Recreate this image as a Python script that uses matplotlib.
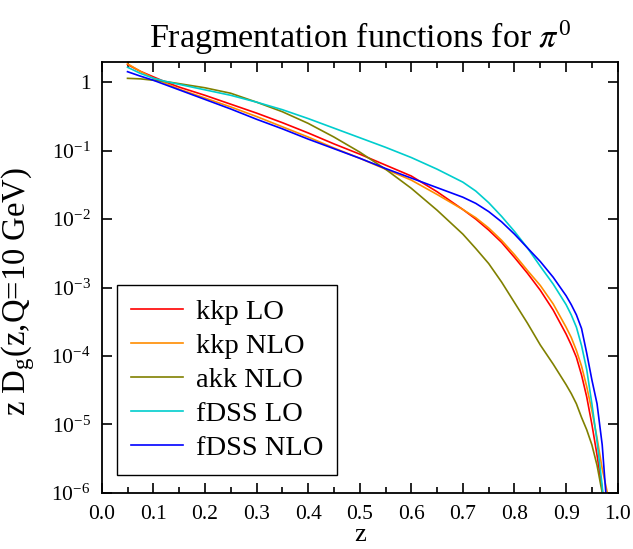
# plot.py
# Gluon fragmentation functions into pi0, several parametrisations
import numpy as np
import matplotlib
matplotlib.use("Agg")
import matplotlib.pyplot as plt
from matplotlib.ticker import FixedLocator, FuncFormatter, MultipleLocator

plt.rcParams['font.family'] = ['Liberation Serif', 'DejaVu Serif']
plt.rcParams['mathtext.fontset'] = 'stix'

# z grid (shared by all curves)
z = [0.05, 0.075, 0.10, 0.125, 0.15, 0.20, 0.25, 0.30, 0.35, 0.40, 0.45, 0.50, 0.55,
     0.60, 0.65, 0.70, 0.725, 0.75, 0.775, 0.80, 0.825, 0.85, 0.875, 0.90,
     0.91, 0.92, 0.93, 0.94, 0.95, 0.96, 0.97, 0.98, 0.99]

# log10 of z*D_g
kkp_lo = [0.26, 0.16, 0.08, 0.00, -0.07, -0.19, -0.32, -0.45, -0.59, -0.74, -0.90, -1.05, -1.21,
          -1.37, -1.60, -1.86, -2.00, -2.16, -2.34, -2.56, -2.79, -3.04, -3.33, -3.68,
          -3.84, -4.02, -4.28, -4.60, -5.00, -5.45, -5.95, -6.60, -8.0]
kkp_nlo = [0.27, 0.16, 0.06, -0.02, -0.10, -0.23, -0.36, -0.50, -0.65, -0.80, -0.96, -1.11, -1.27,
           -1.43, -1.64, -1.86, -1.98, -2.13, -2.31, -2.52, -2.75, -2.97, -3.24, -3.58,
           -3.73, -3.92, -4.15, -4.45, -4.80, -5.20, -5.65, -6.00, -8.0]
akk_nlo = [0.058, 0.05, 0.03, 0.01, -0.02, -0.08, -0.16, -0.29, -0.43, -0.60, -0.80, -1.02, -1.27,
           -1.55, -1.87, -2.22, -2.43, -2.65, -2.92, -3.22, -3.52, -3.84, -4.12, -4.42,
           -4.55, -4.70, -4.90, -5.08, -5.30, -5.60, -6.00, -6.60, -8.0]
fdss_lo = [0.22, 0.13, 0.06, 0.01, -0.03, -0.11, -0.19, -0.29, -0.40, -0.53, -0.67, -0.81, -0.95,
           -1.10, -1.27, -1.46, -1.59, -1.76, -1.96, -2.18, -2.42, -2.69, -2.95, -3.25,
           -3.40, -3.58, -3.85, -4.20, -4.70, -5.25, -5.90, -6.80, -8.0]
fdss_nlo = [0.155, 0.09, 0.03, -0.04, -0.11, -0.25, -0.39, -0.54, -0.68, -0.83, -0.97, -1.11, -1.26,
            -1.40, -1.54, -1.68, -1.77, -1.89, -2.04, -2.22, -2.42, -2.62, -2.85, -3.12,
            -3.25, -3.40, -3.60, -3.96, -4.35, -4.70, -5.30, -6.30, -8.0]

labels = ["kkp LO", "kkp NLO", "akk NLO", "fDSS LO", "fDSS NLO"]
colors = ["#ff0000", "#ff8c00", "#808000", "#00cdcd", "#0000ff"]


def main():
    fig = plt.figure(figsize=(6.33, 5.49), dpi=100)
    ax = fig.add_axes([0.1607, 0.1025, 0.8151, 0.7851])

    series = [kkp_lo, kkp_nlo, akk_nlo, fdss_lo, fdss_nlo]
    for vals, lab, col in zip(series, labels, colors):
        ax.plot(z, 10.0 ** np.array(vals), color=col, lw=1.2, label=lab)

    ax.set_yscale('log')
    ax.set_xlim(0, 1)
    ax.set_ylim(1e-6, 2)

    ax.xaxis.set_major_locator(MultipleLocator(0.1))
    ax.xaxis.set_minor_locator(MultipleLocator(0.05))
    ax.xaxis.set_major_formatter(FuncFormatter(lambda v, p: "%.1f" % v))
    ax.yaxis.set_major_locator(FixedLocator([10.0 ** k for k in range(-6, 1)]))
    ax.yaxis.set_minor_locator(FixedLocator([]))

    def yfmt(v, p):
        k = int(round(np.log10(v)))
        if k == 0:
            return "1"
        return r"$\mathregular{10^{%d}}$" % k
    ax.yaxis.set_major_formatter(FuncFormatter(yfmt))

    ax.tick_params(which='both', direction='in', top=True, right=True, labelsize=15.5, width=1.2)
    ax.tick_params(which='major', length=7)
    ax.tick_params(which='minor', length=4)
    ax.tick_params(axis='x', pad=9)
    ax.tick_params(axis='y', pad=8)
    for s in ax.spines.values():
        s.set_linewidth(1.3)

    # x label sits right at the bottom edge, place it by its baseline
    fig.text(0.5683, 0.014, "z", fontsize=19, ha='center', va='baseline')
    ax.set_ylabel(r"z D$_\mathregular{g}$(z,Q=10 GeV)", fontsize=23.5)
    ax.yaxis.set_label_coords(-0.125, 0.466)
    ax.set_title(r"Fragmentation functions for $\pi^\mathregular{0}$", fontsize=24.5, pad=10)

    leg = ax.legend(loc='lower left', bbox_to_anchor=(0.03, 0.041), fontsize=20.5,
                    handlelength=1.8, handletextpad=0.46, labelspacing=0.28,
                    borderpad=0.5, borderaxespad=0, fancybox=False, framealpha=1,
                    edgecolor='black')
    leg.get_frame().set_linewidth(1.0)

    fig.savefig("out.png", dpi=100)


if __name__ == "__main__":
    main()
